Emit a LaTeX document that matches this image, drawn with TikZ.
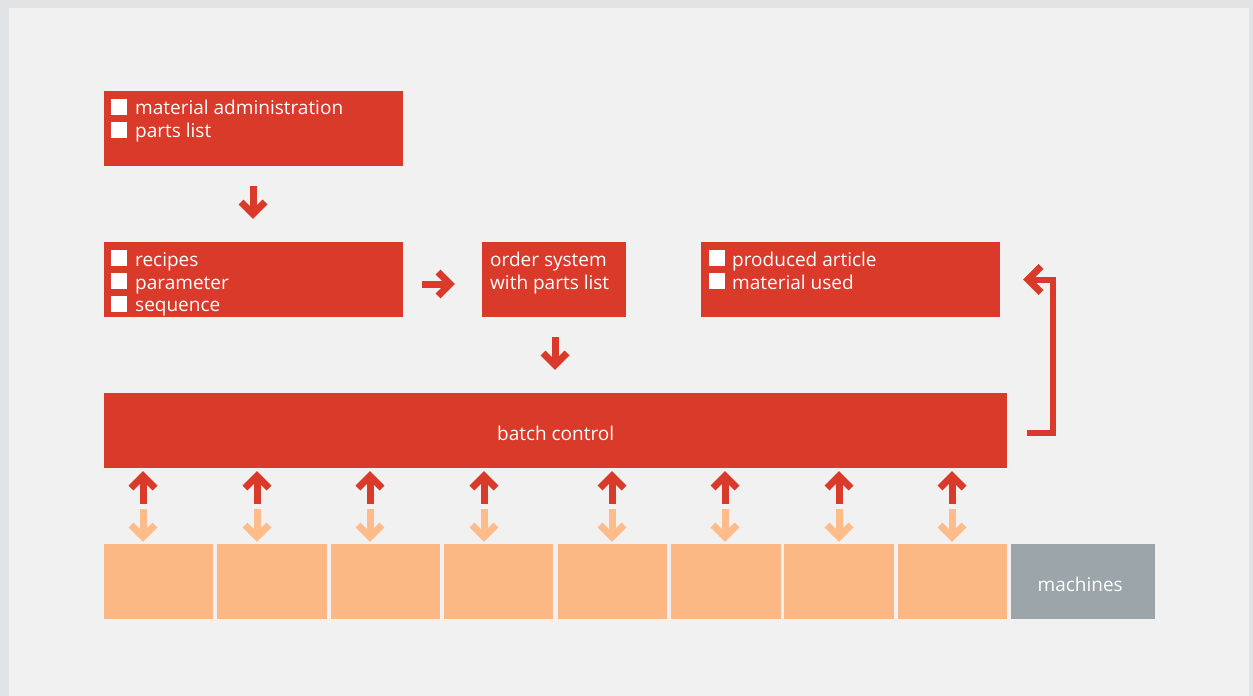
\documentclass[tikz,border=0pt]{standalone}
\usepackage{fontspec}
\setmainfont{Open Sans}
\definecolor{redA}{HTML}{D93A2A}
\definecolor{bgA}{HTML}{F0F1F0}
\definecolor{frameA}{HTML}{E2E3E4}
\definecolor{orangeA}{HTML}{FBB884}
\definecolor{orangeB}{HTML}{FDBC8A}
\definecolor{grayA}{HTML}{9BA5AA}
\begin{document}
\begin{tikzpicture}[x=1pt,y=-1pt,
  box/.style={fill=redA, draw=none, anchor=north west, inner sep=0pt, minimum height=75pt},
  obox/.style={fill=orangeA, draw=none, anchor=north west, inner sep=0pt, minimum height=75pt},
  txt/.style={anchor=base west, inner sep=0pt, text=white, font=\fontsize{19}{23}\selectfont},
  sq/.style={fill=white},
  arrline/.style={line width=7pt, line join=miter, line cap=butt},
  arrup/.pic={\draw[arrline] (0,0)--(0,28); \draw[arrline] (-12,12)--(0,0)--(12,12);},
  arrdown/.pic={\draw[arrline] (0,0)--(0,-28); \draw[arrline] (-12,-12)--(0,0)--(12,-12);},
  arrright/.pic={\draw[arrline] (0,0)--(-28,0); \draw[arrline] (-12,-12)--(0,0)--(-12,12);},
  arrleft/.pic={\draw[arrline] (13,-13)--(0,0)--(13,13);}
]
\useasboundingbox (0,0) rectangle (1253,696);
\fill[frameA] (0,0) rectangle (1253,696);
\fill[bgA] (9,8) rectangle (1249,696);

% boxes
\node[box, minimum width=299pt] (mat) at (104,91) {};
\node[box, minimum width=299pt] (rec) at (104,242) {};
\node[box, minimum width=144pt] (ord) at (482,242) {};
\node[box, minimum width=299pt] (prod) at (701,242) {};
\node[box, minimum width=903pt] (batch) at (104,393) {};
\node[txt, anchor=center] at ([yshift=-3pt]batch.center) {batch control};

% texts box 1
\fill[sq] (111,99) rectangle (127,115);
\node[txt] (t1) at (135,114) {material administration};
\fill[sq] (111,122) rectangle (127,138);
\node[txt] (t2) at (135,137) {parts list};
% box 2
\fill[sq] (111,250) rectangle (127,266);
\node[txt] (t3) at (135,266) {recipes};
\fill[sq] (111,273) rectangle (127,289);
\node[txt] (t4) at (135,289) {parameter};
\fill[sq] (111,296) rectangle (127,312);
\node[txt] (t5) at (135,311) {sequence};
% order
\node[txt] (t6) at (490,266) {order system};
\node[txt] (t7) at (490,289) {with parts list};
% produced
\fill[sq] (709,250) rectangle (725,266);
\node[txt] (t8) at (732,266) {produced article};
\fill[sq] (709,273) rectangle (725,289);
\node[txt] (t9) at (732,289) {material used};

% arrows between boxes
\pic[redA] at (253,214) {arrdown};
\pic[redA] at (450,284) {arrright};
\pic[redA] at (555,365) {arrdown};
% feedback
\coordinate (fbA) at ([xshift=20pt,yshift=-2.5pt]batch.east);
\coordinate (fbB) at ([xshift=53pt]prod.east);
\coordinate (fbC) at ([xshift=30pt]prod.east);
\draw[redA, line width=6pt] (fbA) -| (fbB) -- (fbC);
\pic[redA] at (1028,279.5) {arrleft};

% machine boxes
\node[obox, minimum width=109pt] (m1) at (104,544) {};
\node[obox, minimum width=110pt] (m2) at (217,544) {};
\node[obox, minimum width=109pt] (m3) at (331,544) {};
\node[obox, minimum width=109pt] (m4) at (444,544) {};
\node[obox, minimum width=109pt] (m5) at (558,544) {};
\node[obox, minimum width=110pt] (m6) at (671,544) {};
\node[obox, minimum width=110pt] (m7) at (784,544) {};
\node[obox, minimum width=109pt] (m8) at (898,544) {};
\node[obox, fill=grayA, minimum width=144pt] (mach) at (1011,544) {};
\node[txt, anchor=center] at ([xshift=-3pt,yshift=-3pt]mach.center) {machines};

% bidirectional arrows
\foreach \x in {143,257,370,484,612,725,839,952}{
  \pic[redA] at (\x,476) {arrup};
  \pic[orangeB] at (\x,537) {arrdown};
}
\end{tikzpicture}
\end{document}
